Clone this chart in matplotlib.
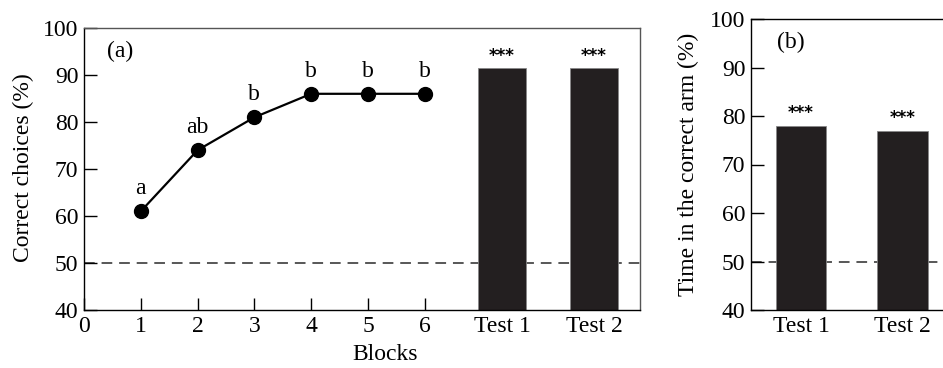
import matplotlib
matplotlib.use('Agg')
import matplotlib.pyplot as plt

plt.rcParams['font.family'] = ['Liberation Serif', 'DejaVu Serif']
plt.rcParams['font.size'] = 17

# data
blocks = [1, 2, 3, 4, 5, 6]
block_vals = [61, 74, 81, 86, 86, 86]
block_letters = ['a', 'ab', 'b', 'b', 'b', 'b']
test_labels = ['Test 1', 'Test 2']
test_vals_a = [91.5, 91.5]
test_vals_b = [78, 77]
stars = ['***', '***']

bar_col = '#231f20'
W, H = 943, 368
fig = plt.figure(figsize=(W / 100, H / 100), dpi=100)

# panel (a)
ax1 = fig.add_axes([84 / W, 1 - 310 / H, 556 / W, 282 / H])
test_pos_a = [7.36, 8.98]
ax1.axhline(50, color='#2a2a2a', lw=1.1, ls=(0, (7, 4.5)), zorder=1)
ax1.bar(test_pos_a, test_vals_a, width=0.83, bottom=0, color=bar_col,
        edgecolor='#888888', linewidth=0.6, zorder=2)
ax1.plot(blocks, block_vals, color='black', lw=1.6, marker='o', ms=10,
         zorder=3)
for xb, yb, t in zip(blocks, block_vals, block_letters):
    ax1.text(xb, yb + 2.6, t, ha='center', va='bottom', fontsize=17)
for xb, yb, t in zip(test_pos_a, test_vals_a, stars):
    ax1.text(xb, yb + 0.6, t, ha='center', va='bottom', fontsize=12,
             family='DejaVu Sans', weight='bold')
ax1.set_xlim(0, 9.79)
ax1.set_ylim(40, 100)
ax1.set_xticks([0] + blocks + test_pos_a)
ax1.set_xticklabels(['0'] + [str(b) for b in blocks] + test_labels)
ax1.set_yticks(range(40, 101, 10))
ax1.tick_params(direction='in', length=9, width=1, pad=4, labelsize=17)
ax1.text(0.041, 0.918, '(a)', transform=ax1.transAxes, va='center', fontsize=17)
for s in ax1.spines.values():
    s.set_linewidth(1)
ax1.spines['right'].set_color('#555555')
ax1.spines['top'].set_color('#555555')
fig.text(23 / W, 1 - 168 / H, 'Correct choices (%)', rotation=90,
         ha='center', va='center', fontsize=17)
fig.text(385 / W, 1 - 355 / H, 'Blocks', ha='center', va='center', fontsize=17)

# panel (b)
ax2 = fig.add_axes([751 / W, 1 - 310 / H, 202 / W, 291 / H])
test_pos_b = [1, 2]
ax2.axhline(50, color='#2a2a2a', lw=1.1, ls=(0, (7, 4.5)), zorder=1)
ax2.bar(test_pos_b, test_vals_b, width=0.5, color=bar_col,
        edgecolor='#888888', linewidth=0.6, zorder=2)
for xb, yb, t in zip(test_pos_b, test_vals_b, stars):
    ax2.text(xb, yb + 0.8, t, ha='center', va='bottom', fontsize=12,
             family='DejaVu Sans', weight='bold')
ax2.set_xlim(0.505, 2.5)
ax2.set_ylim(40, 100)
ax2.set_xticks(test_pos_b)
ax2.set_xticklabels(test_labels)
ax2.set_yticks(range(40, 101, 10))
ax2.tick_params(direction='in', length=9, width=1, pad=4, labelsize=17)
ax2.text(0.129, 0.918, '(b)', transform=ax2.transAxes, va='center', fontsize=17)
for s in ax2.spines.values():
    s.set_linewidth(1)
fig.text(688 / W, 1 - 164 / H, 'Time in the correct arm (%)', rotation=90,
         ha='center', va='center', fontsize=17)

fig.savefig('out.png', dpi=100)
